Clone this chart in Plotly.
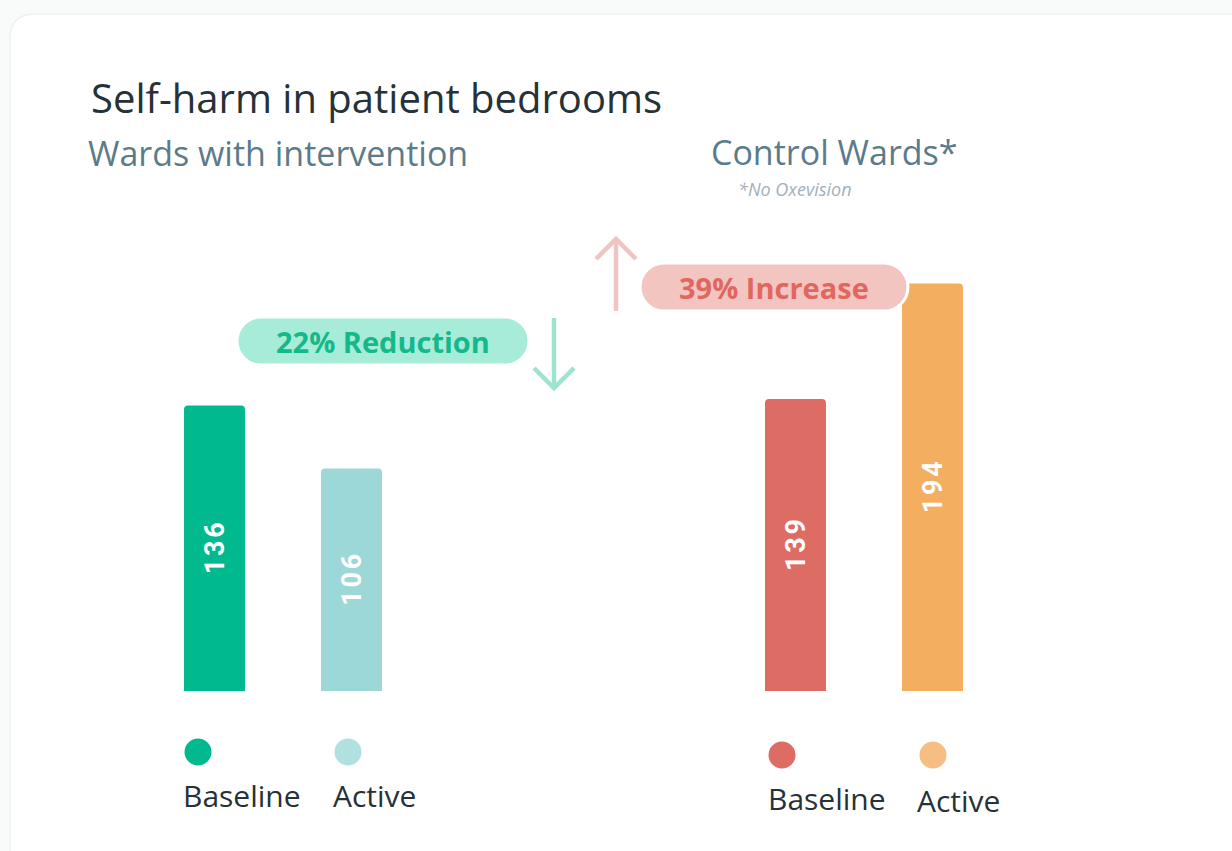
import plotly.graph_objects as go

# ---- data ----
title = "Self-harm in patient bedrooms"
group_titles = ["Wards with intervention", "Control Wards*"]
footnote = "*No Oxevision"
periods = ["Baseline", "Active"]
intervention_values = [136, 106]
control_values = [139, 194]
change_labels = ["22% Reduction", "39% Increase"]

# ---- styles ----
W, H = 1232, 851
bar_colors = [["#00b98e", "#9cd8d8"], ["#dd6c64", "#f3ae5f"]]
legend_colors = [["#00b98e", "#b0e0e0"], ["#dd6c64", "#f6be82"]]
pill_fill = ["#a7ecd9", "#f2c5c1"]
pill_text = ["#14b98b", "#e0675f"]
arrow_colors = ["#9de3cf", "#f0c5c1"]
dark = "#263238"
slate = "#5b7b8a"


def px(x):
    return x / W


def py(y):
    return 1 - y / H


fig = go.Figure()

base_px = 691
scale = 2.1  # px per unit
y_max = 210
dom_bottom = py(base_px)
dom_top = py(base_px - y_max * scale)

domains = [(146, 420), (727, 1001)]
for gi, vals in enumerate([intervention_values, control_values]):
    xa = "x" if gi == 0 else "x2"
    ya = "y" if gi == 0 else "y2"
    fig.add_trace(go.Bar(
        x=periods, y=vals, xaxis=xa, yaxis=ya,
        marker=dict(color=bar_colors[gi], line=dict(width=0)),
        width=0.445,
        text=["\u200a".join(str(v)) for v in vals],
        textposition="inside", insidetextanchor="middle", textangle=-90,
        textfont=dict(family="Roboto", size=27, color="white", weight="bold"),
        hoverinfo="skip", showlegend=False,
    ))

axis_common = dict(showgrid=False, zeroline=False, showticklabels=False,
                   showline=False, fixedrange=True, ticks="")
fig.update_layout(
    xaxis=dict(domain=[px(domains[0][0]), px(domains[0][1])], range=[-0.5, 1.5], **axis_common),
    xaxis2=dict(domain=[px(domains[1][0]), px(domains[1][1])], range=[-0.5, 1.5], anchor="y2", **axis_common),
    yaxis=dict(domain=[dom_bottom, dom_top], range=[0, y_max], **axis_common),
    yaxis2=dict(domain=[dom_bottom, dom_top], range=[0, y_max], anchor="x2", **axis_common),
)

shapes = []
# card
r = 25
x0, y0, x1, y1 = 10, 14, 1262, 880
card = (f"M {px(x0+r)},{py(y0)} L {px(x1-r)},{py(y0)} "
        f"Q {px(x1)},{py(y0)} {px(x1)},{py(y0+r)} L {px(x1)},{py(y1-r)} "
        f"Q {px(x1)},{py(y1)} {px(x1-r)},{py(y1)} L {px(x0+r)},{py(y1)} "
        f"Q {px(x0)},{py(y1)} {px(x0)},{py(y1-r)} L {px(x0)},{py(y0+r)} "
        f"Q {px(x0)},{py(y0)} {px(x0+r)},{py(y0)} Z")
shapes.append(dict(type="path", path=card, xref="paper", yref="paper",
                   fillcolor="white", line=dict(color="#eff1f1", width=1.5), layer="below"))


def pill(xl, yt, xr, yb, fill):
    rr = (yb - yt) / 2
    k = 0.5523 * rr
    p = (f"M {px(xl+rr)},{py(yt)} L {px(xr-rr)},{py(yt)} "
         f"C {px(xr-rr+k)},{py(yt)} {px(xr)},{py(yt+rr-k)} {px(xr)},{py(yt+rr)} "
         f"C {px(xr)},{py(yt+rr+k)} {px(xr-rr+k)},{py(yb)} {px(xr-rr)},{py(yb)} "
         f"L {px(xl+rr)},{py(yb)} "
         f"C {px(xl+rr-k)},{py(yb)} {px(xl)},{py(yt+rr+k)} {px(xl)},{py(yt+rr)} "
         f"C {px(xl)},{py(yt+rr-k)} {px(xl+rr-k)},{py(yt)} {px(xl+rr)},{py(yt)} Z")
    return dict(type="path", path=p, xref="paper", yref="paper", fillcolor=fill,
                line=dict(color="white", width=3), layer="above")


pills = [(237, 317, 529, 365), (640, 263, 908, 311)]
for i, (a, b, c, d) in enumerate(pills):
    shapes.append(pill(a, b, c, d, pill_fill[i]))


def line_path(pts, color):
    p = "M " + " L ".join(f"{px(x)},{py(y)}" for x, y in pts)
    return dict(type="path", path=p, xref="paper", yref="paper",
                line=dict(color=color, width=4.5), layer="above")


# down arrow
shapes.append(line_path([(554, 318), (554, 388)], arrow_colors[0]))
shapes.append(line_path([(534, 368), (554, 388), (574, 368)], arrow_colors[0]))
# up arrow
shapes.append(line_path([(616, 311), (616, 239)], arrow_colors[1]))
shapes.append(line_path([(596, 259), (616, 239), (636, 259)], arrow_colors[1]))

# legend dots
legend_pos = [[(198, 752), (348, 752)], [(782, 755), (933, 755)]]
rad = 13.5
for gi in range(2):
    for si in range(2):
        cx, cy = legend_pos[gi][si]
        shapes.append(dict(type="circle", xref="paper", yref="paper",
                           x0=px(cx-rad), x1=px(cx+rad), y0=py(cy+rad), y1=py(cy-rad),
                           fillcolor=legend_colors[gi][si], line=dict(width=0)))

annotations = []


def ann(text, x, y, size, color, family="Open Sans", xanchor="left", weight="normal", style="normal"):
    annotations.append(dict(text=text, x=px(x), y=py(y), xref="paper", yref="paper",
                            xanchor=xanchor, yanchor="middle", showarrow=False,
                            font=dict(family=family, size=size, color=color, weight=weight, style=style)))


ann(title, 89, 97, 40, dark)
ann(group_titles[0], 86, 153, 34, slate)
ann(group_titles[1], 709, 152, 34, slate)
ann(footnote, 736, 189, 18, "#a3b0ba", style="italic")
ann(change_labels[0], 383, 341, 29, pill_text[0], xanchor="center", weight="bold")
ann(change_labels[1], 774, 287, 29, pill_text[1], xanchor="center", weight="bold")

label_pos = [[(181, 795), (331, 795)], [(766, 798), (915, 800)]]
for gi in range(2):
    for si in range(2):
        x, y = label_pos[gi][si]
        ann(periods[si], x, y, 30, dark)

fig.update_layout(
    width=W, height=H, margin=dict(l=0, r=0, t=0, b=0),
    paper_bgcolor="#f9fafa", plot_bgcolor="rgba(0,0,0,0)",
    shapes=shapes, annotations=annotations,
    barcornerradius=4, showlegend=False,
    uniformtext=dict(mode=False),
)

fig.write_html("out.html", config={"displayModeBar": False},
               post_script="document.body.style.margin='0';document.body.style.overflow='hidden';")
